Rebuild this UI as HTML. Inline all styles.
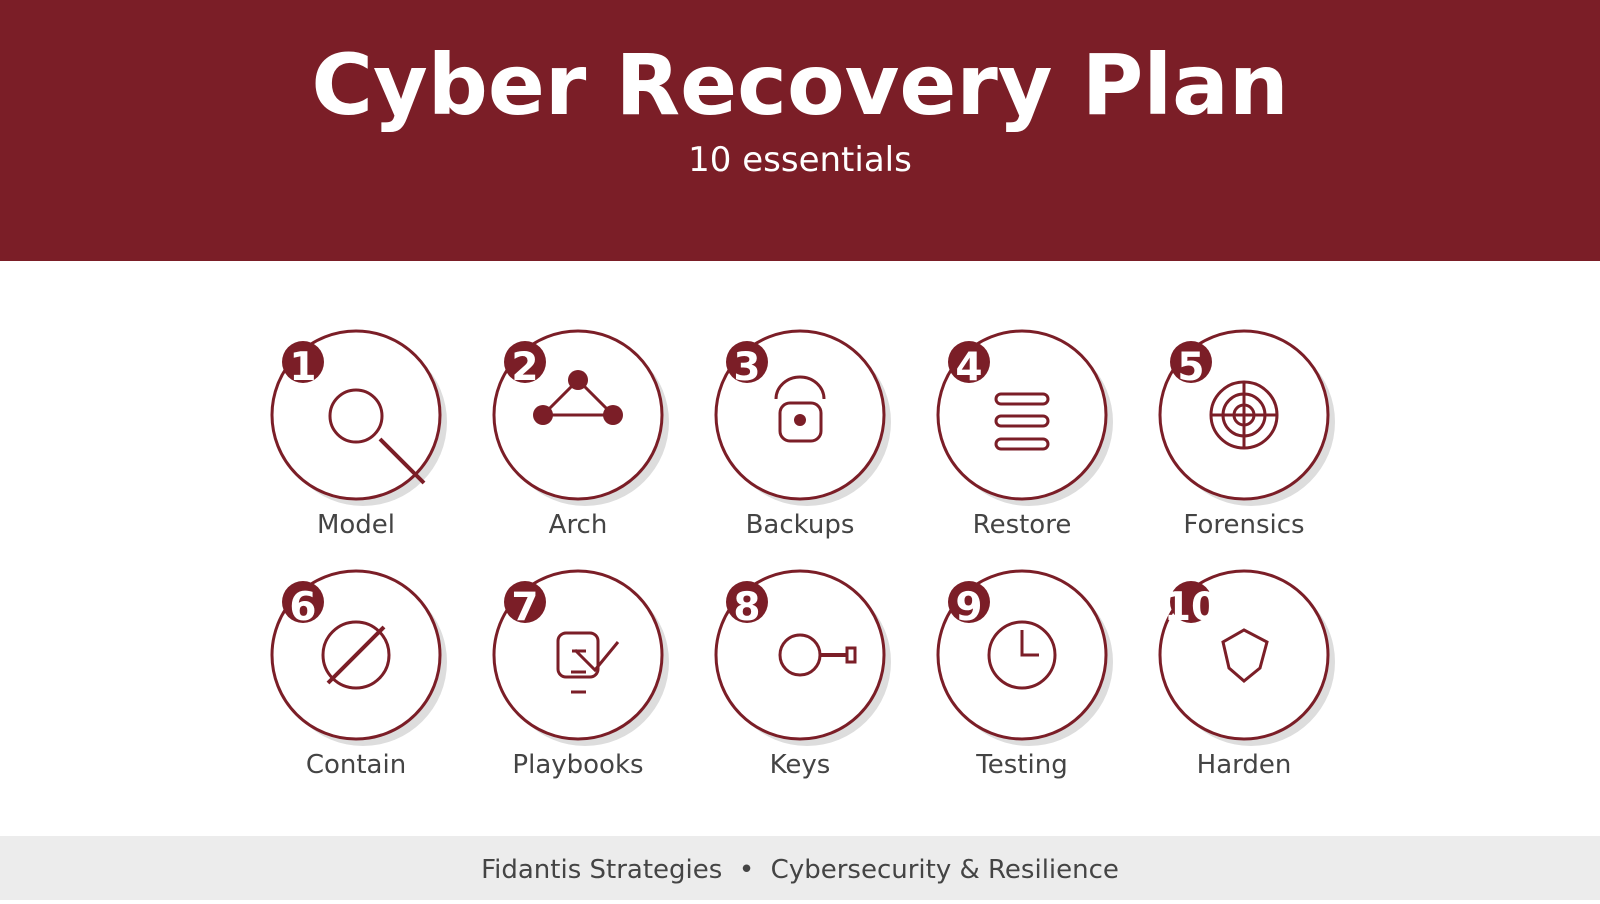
<!DOCTYPE html>
<html><head><meta charset="utf-8"><style>
body{margin:0;width:1600px;height:900px;overflow:hidden;background:#fff;font-family:"DejaVu Sans","Liberation Sans",sans-serif}
</style></head><body>
<svg width="1600" height="900" xmlns="http://www.w3.org/2000/svg" font-family="DejaVu Sans, Liberation Sans, sans-serif">
<rect x="0" y="0" width="1600" height="261" fill="#7b1e27"/>
<text x="800" y="114" text-anchor="middle" fill="#fff" font-size="84" font-weight="bold">Cyber Recovery Plan</text>
<text x="800" y="171" text-anchor="middle" fill="#fff" font-size="34">10 essentials</text>
<rect x="0" y="836" width="1600" height="64" fill="#ececec"/>
<text x="800" y="878" text-anchor="middle" fill="#444" font-size="26" xml:space="preserve">Fidantis Strategies  •  Cybersecurity &amp; Resilience</text>
<defs>
<g id="c">
<circle cx="7" cy="7" r="84" fill="#ddd" stroke="none"/>
<circle cx="0" cy="0" r="84" fill="#fff" stroke="#7b1e27" stroke-width="3"/>
<circle cx="-53" cy="-53" r="21" fill="#7b1e27" stroke="none"/>
</g>
</defs>
<use href="#c" x="356" y="415"/><use href="#c" x="578" y="415"/><use href="#c" x="800" y="415"/><use href="#c" x="1022" y="415"/><use href="#c" x="1244" y="415"/>
<use href="#c" x="356" y="655"/><use href="#c" x="578" y="655"/><use href="#c" x="800" y="655"/><use href="#c" x="1022" y="655"/><use href="#c" x="1244" y="655"/>
<g fill="none" stroke="#7b1e27" stroke-width="3">
<circle cx="356" cy="416" r="26"/>
<line x1="380" y1="439" x2="424" y2="483" stroke-width="4"/>
<path d="M578 380 L543 415 L613 415 Z"/>
<g fill="#7b1e27" stroke="none"><circle cx="578" cy="380" r="10"/><circle cx="543" cy="415" r="10"/><circle cx="613" cy="415" r="10"/></g>
<path d="M776 399 A24 22 0 0 1 824 399"/>
<rect x="780" y="403" width="41" height="38" rx="10"/>
<circle cx="800" cy="420" r="6" fill="#7b1e27" stroke="none"/>
<rect x="996" y="394" width="52" height="10" rx="5"/>
<rect x="996" y="416" width="52" height="10" rx="5"/>
<rect x="996" y="439" width="52" height="10" rx="5"/>
<circle cx="1244" cy="415" r="33"/><circle cx="1244" cy="415" r="21"/><circle cx="1244" cy="415" r="10"/>
<line x1="1244" y1="382" x2="1244" y2="448"/><line x1="1211" y1="415" x2="1277" y2="415"/>
<circle cx="356" cy="655" r="33"/>
<line x1="384" y1="627" x2="328" y2="683" stroke-width="4"/>
<rect x="558" y="633" width="40" height="44" rx="8"/>
<path d="M575 650 L595 670 L618 642"/>
<line x1="572" y1="651" x2="586" y2="651"/>
<line x1="571" y1="672" x2="586" y2="672"/>
<line x1="571" y1="692" x2="586" y2="692"/>
<circle cx="800" cy="655" r="20"/>
<line x1="820" y1="655" x2="848" y2="655" stroke-width="4"/>
<rect x="847" y="648" width="8" height="14"/>
<circle cx="1022" cy="655" r="33"/>
<path d="M1022 630 L1022 655 L1039 655"/>
<path d="M1244 630 L1267 642 L1260 668 L1244 681 L1229 668 L1223 642 Z"/>
</g>
<g fill="#fff" font-size="39" font-weight="bold" text-anchor="middle">
<text x="303" y="380">1</text><text x="525" y="380">2</text><text x="747" y="380">3</text><text x="969" y="380">4</text><text x="1191" y="380">5</text>
<text x="303" y="620">6</text><text x="525" y="620">7</text><text x="747" y="620">8</text><text x="969" y="620">9</text><text x="1191" y="620">10</text>
</g>
<g fill="#444" font-size="26" text-anchor="middle">
<text x="356" y="533">Model</text><text x="578" y="533">Arch</text><text x="800" y="533">Backups</text><text x="1022" y="533">Restore</text><text x="1244" y="533">Forensics</text>
<text x="356" y="773">Contain</text><text x="578" y="773">Playbooks</text><text x="800" y="773">Keys</text><text x="1022" y="773">Testing</text><text x="1244" y="773">Harden</text>
</g>
</svg>
</body></html>
